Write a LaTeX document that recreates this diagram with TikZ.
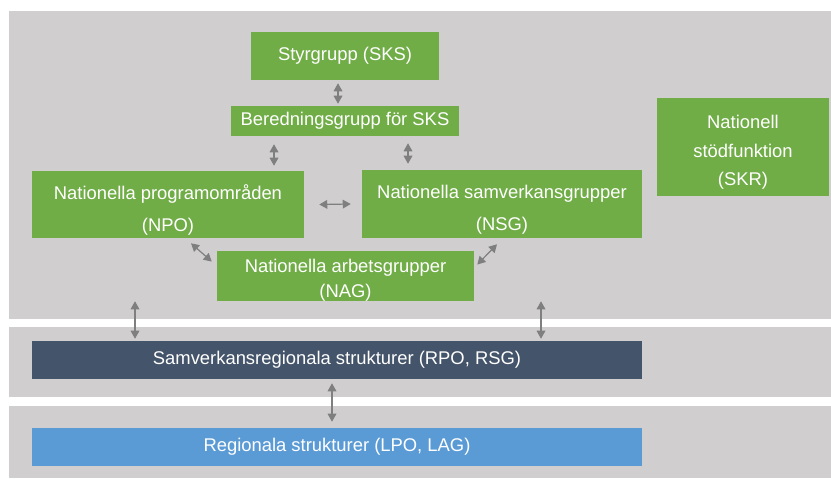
\documentclass[tikz,border=0pt]{standalone}
\usepackage{fontspec}
\setmainfont{Liberation Sans}
\usetikzlibrary{arrows.meta}
\definecolor{panelgray}{HTML}{D0CECE}
\definecolor{boxgreen}{HTML}{70AD47}
\definecolor{boxnavy}{HTML}{44546A}
\definecolor{boxblue}{HTML}{5B9BD5}
\definecolor{arrowgray}{HTML}{7F7F7F}
\begin{document}
\begin{tikzpicture}[x=0.75pt,y=-0.75pt,
  sz/.style 2 args={minimum width=#1*0.75pt,minimum height=#2*0.75pt},
  panel/.style={fill=panelgray,draw=none,inner sep=0pt},
  basebox/.style={draw=none,text=white,inner sep=0pt,align=center},
  gbox/.style={basebox,fill=boxgreen},
  f1/.style={font=\fontsize{13.8}{16}\selectfont},
  f2/.style={font=\fontsize{13.8}{24}\selectfont},
  f3/.style={font=\fontsize{13.8}{21.5}\selectfont},
  f4/.style={font=\fontsize{13.8}{19}\selectfont},
  arr/.style={draw=arrowgray,line width=0.9pt,
    {Triangle[length=6pt,width=6.5pt]}-{Triangle[length=6pt,width=6.5pt]}}
]
\useasboundingbox (0,0) rectangle (831,478);
\fill[white] (0,0) rectangle (831,478);
% panels
\node[panel,sz={822}{308}] (ptop) at (420,165) {};
\node[panel,sz={822}{70}] (pmid) at (420,362) {};
\node[panel,sz={822}{72}] (pbot) at (420,442) {};
% boxes
\node[gbox,f1,sz={188}{48}] (styr) at (345,56) {Styrgrupp (SKS)};
\node[gbox,f1,sz={228}{30}] (bered) at (345,121) {Beredningsgrupp för SKS};
\node[gbox,f2,sz={272}{67}] (npo) at (168,204.5) {\rule{0pt}{19.8pt}Nationella programområden\\(NPO)};
\node[gbox,f2,sz={280}{68}] (nsg) at (502,204) {\rule{0pt}{19pt}Nationella samverkansgrupper\\(NSG)};
\node[gbox,f3,sz={172}{98}] (skr) at (743,147) {\rule{0pt}{17.9pt}Nationell\\stödfunktion\\(SKR)};
\node[gbox,f4,sz={257}{50}] (nag) at (345.5,276) {\rule{0pt}{15.9pt}Nationella arbetsgrupper\\(NAG)};
\node[basebox,fill=boxnavy,f1,sz={610}{38}] (sam) at (337,360) {Samverkansregionala strukturer (RPO, RSG)};
\node[basebox,fill=boxblue,f1,sz={610}{38}] (reg) at (337,447) {Regionala strukturer (LPO, LAG)};
% connectors
\draw[arr] ([shift={(-7,3)}]styr.south) -- ([shift={(-7,-2)}]bered.north);
\draw[arr] ([shift={(-71,8)}]bered.south) -- ([shift={(106,-5)}]npo.north);
\draw[arr] ([shift={(63,7)}]bered.south) -- ([shift={(-94,-6)}]nsg.north);
\draw[arr] ([shift={(15,0)}]npo.east) -- ([shift={(-11,0)}]nsg.west);
\draw[arr] ([shift={(23,5)}]npo.south) -- ([shift={(-5,11)}]nag.north west);
\draw[arr] ([shift={(-5,6)}]nsg.south) -- ([shift={(3,14)}]nag.north east);
\draw[arr] ([shift={(-285,-18)}]ptop.south) -- ([shift={(-202,-2)}]sam.north);
\draw[arr] ([shift={(121,-18)}]ptop.south) -- ([shift={(204,-2)}]sam.north);
\draw[arr] ([shift={(-5,4)}]sam.south) -- ([shift={(-5,-6)}]reg.north);
\end{tikzpicture}
\end{document}
